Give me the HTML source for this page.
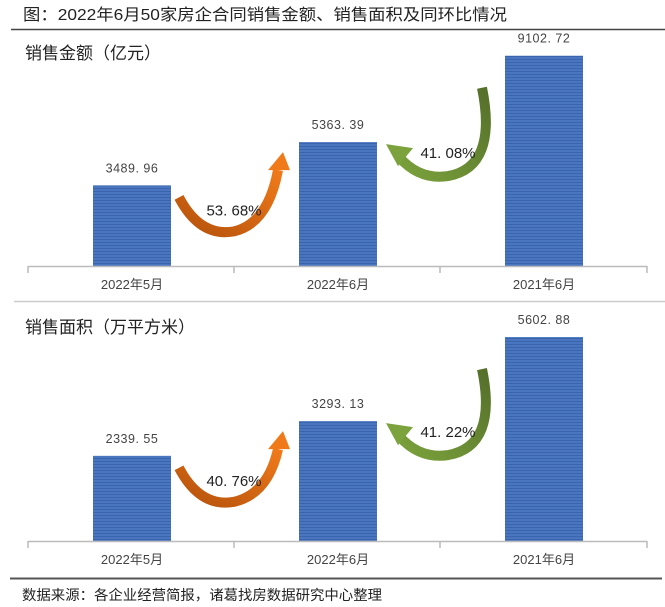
<!DOCTYPE html>
<html><head><meta charset="utf-8">
<style>
body{margin:0;background:#fff;}
svg{display:block;font-family:"Liberation Sans","Noto Sans CJK SC",sans-serif;}
</style></head>
<body>
<svg id="c" width="665" height="607" viewBox="0 0 665 607" xmlns="http://www.w3.org/2000/svg">
<defs>
<pattern id="stripe" width="4" height="3" patternUnits="userSpaceOnUse">
<rect width="4" height="3" fill="#4a76c0"/><rect y="2" width="4" height="1" fill="#3a64ad"/>
</pattern>
<linearGradient id="og" x1="0" y1="1" x2="1" y2="0"><stop offset="0" stop-color="#b5520c"/><stop offset="1" stop-color="#f07a1a"/></linearGradient>
<linearGradient id="gg" x1="1" y1="0" x2="0" y2="1"><stop offset="0" stop-color="#556f2a"/><stop offset="1" stop-color="#7ba23c"/></linearGradient>
</defs>
<text x="23" y="20" font-size="16" fill="#222" textLength="484" lengthAdjust="spacingAndGlyphs">图：2022年6月50家房企合同销售金额、销售面积及同环比情况</text>
<line x1="11" y1="29.5" x2="665" y2="29.5" stroke="#444" stroke-width="1.5"/>
<line x1="14" y1="301.5" x2="665" y2="301.5" stroke="#ccc" stroke-width="1.5"/>
<line x1="10" y1="578.5" x2="662" y2="578.5" stroke="#555" stroke-width="2"/>
<text x="22" y="600" font-size="14" fill="#222" textLength="360" lengthAdjust="spacingAndGlyphs">数据来源：各企业经营简报，诸葛找房数据研究中心整理</text>
<g id="p1"></g><g id="p2"></g>
</svg>
<script>
const categories = ["2022年5月","2022年6月","2021年6月"];
const amountValues = [3489.96, 5363.39, 9102.72];
const areaValues = [2339.55, 3293.13, 5602.88];
const amountChanges = ["53.68%","41.08%"];
const areaChanges = ["40.76%","41.22%"];
const NS="http://www.w3.org/2000/svg";
function mk(parent,tag,attrs){const e=document.createElementNS(NS,tag);for(const k in attrs)e.setAttribute(k,attrs[k]);parent.appendChild(e);return e;}
function panel(gid,title,values,changes,base,scale,titleY){
  const g=document.getElementById(gid);
  const xCenter=i=>132+i*206;
  const y=v=>base-v*scale;
  const t=mk(g,'text',{x:25,y:titleY,'font-size':17,fill:'#222'});t.textContent=title;
  
  
  values.forEach((v,i)=>{
    const r=mk(g,'rect',{x:xCenter(i)-39,y:y(v),width:78,height:base-y(v),fill:'url(#stripe)'});
    
    
    const l=mk(g,'text',{x:xCenter(i),y:y(v)-13,'font-size':12.5,fill:'#444','text-anchor':'middle','letter-spacing':'0.5'});
    l.textContent=v.toFixed(2).replace('.','. ');
    
    
    const c=mk(g,'text',{x:xCenter(i),y:base+23,'font-size':13,fill:'#444','text-anchor':'middle'});
    c.textContent=categories[i];
    
    
  });
  const ax=mk(g,'path',{d:`M28 ${base+0.5} H647 M28 ${base} v7 M234 ${base} v7 M440 ${base} v7 M647 ${base} v7`,stroke:'#bbb','stroke-width':1.5,fill:'none'});
  
  
  const t0=y(values[0]), t1=y(values[1]), t2=y(values[2]);
  const oy=t0+12;
  const o=mk(g,'path',{d:`M179 ${oy} Q200 ${oy+40} 234 ${oy+34} Q268 ${oy+26} 278 ${t1+28}`,stroke:'url(#og)','stroke-width':10,fill:'none'});
  
  
  const oh=mk(g,'polygon',{points:`268,${t1+28} 290,${t1+28} 283,${t1+10}`,fill:'#f07a1a'});
  
  
  const ol=mk(g,'text',{x:234,y:t0+30,'font-size':15,fill:'#222','text-anchor':'middle'});
  ol.textContent=changes[0].replace('.','. ');
  
  
  const gr=mk(g,'path',{d:`M482 ${t2+32} Q498 ${t1+25} 448 ${t1+34} Q420 ${t1+38} 400 ${t1+16}`,stroke:'url(#gg)','stroke-width':10,fill:'none'});
  
  
  const gh=mk(g,'polygon',{points:`386,${t1+2} 413,${t1+6} 398,${t1+24}`,fill:'#7ba23c'});
  
  
  const gl=mk(g,'text',{x:448,y:t1+16,'font-size':15,fill:'#222','text-anchor':'middle'});
  gl.textContent=changes[1].replace('.','. ');
  
  
}
panel('p1','销售金额（亿元）',amountValues,amountChanges,266,0.0231,59);
panel('p2','销售面积（万平方米）',areaValues,areaChanges,541,0.0364,333);
</script>
</body></html>
